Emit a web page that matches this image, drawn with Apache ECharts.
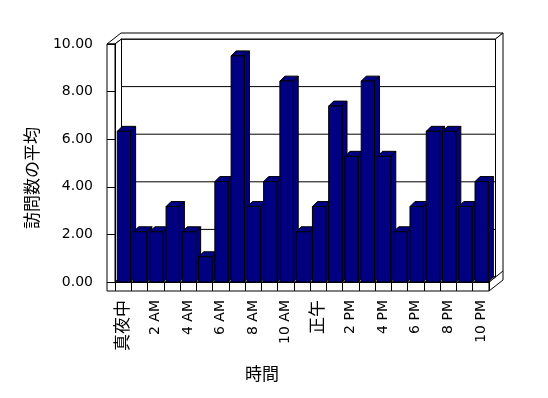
<!DOCTYPE html>
<html>
<head>
<meta charset="utf-8">
<script src="https://cdn.jsdelivr.net/npm/echarts@6/dist/echarts.min.js"></script>
<style>
  html, body { margin: 0; padding: 0; background: #fff; }
  #chart { width: 548px; height: 398px; }
</style>
</head>
<body>
<div id="chart"></div>
<script>
  // 時間帯 (0時〜22時)
  const hours = ['真夜中', '1 AM', '2 AM', '3 AM', '4 AM', '5 AM', '6 AM', '7 AM', '8 AM', '9 AM', '10 AM', '11 AM',
                 '正午', '1 PM', '2 PM', '3 PM', '4 PM', '5 PM', '6 PM', '7 PM', '8 PM', '9 PM', '10 PM'];
  // 訪問数の平均
  const visits = [6.33, 2.11, 2.11, 3.17, 2.11, 1.06, 4.22, 9.50, 3.17, 4.22, 8.44, 2.11,
                  3.17, 7.39, 5.28, 8.44, 5.28, 2.11, 3.17, 6.33, 6.33, 3.17, 4.22];
  const yTicks = [0, 2, 4, 6, 8, 10];

  const font = '"DejaVu Sans", "Noto Sans CJK JP", sans-serif';
  const chart = echarts.init(document.getElementById('chart'));

  // 奥行き (背面の壁まで / 壁の厚みを含めた全体)
  const bx = 6.5, by = -5, tx = 14, ty = -11;
  const wallW = 8, floorH = 9;

  function renderFrame(params, api) {
    const cs = params.coordSys;
    const L = cs.x, R = cs.x + cs.width, T = cs.y, B = cs.y + cs.height;
    const st = { fill: '#fff', stroke: '#000', lineWidth: 1 };
    const poly = pts => ({ type: 'polygon', shape: { points: pts }, style: st });
    const kids = [];
    // 背面の壁
    kids.push(poly([[L + bx, T + by], [R + bx, T + by], [R + bx, B + by], [L + bx, B + by]]));
    yTicks.forEach(v => {
      const y = api.coord([0, v])[1] + by;
      kids.push({ type: 'line', shape: { x1: L + bx, y1: y, x2: R + bx, y2: y }, style: { stroke: '#000', lineWidth: 1 } });
    });
    // 壁の上面
    kids.push(poly([[L - wallW, T], [L - wallW + tx, T + ty], [R + tx, T + ty], [R + bx, T + by], [L + bx, T + by], [L, T]]));
    // 右側面
    kids.push(poly([[R + bx, T + by], [R + tx, T + ty], [R + tx, B + ty + floorH], [R, B + floorH], [R, B], [R + bx, B + by]]));
    kids.push({ type: 'line', shape: { x1: R + bx, y1: B + by, x2: R + tx, y2: B + ty }, style: { stroke: '#000', lineWidth: 1 } });
    // 左の壁の内側、床の上面
    kids.push(poly([[L, T], [L + bx, T + by], [L + bx, B + by], [L, B]]));
    kids.push(poly([[L, B], [R, B], [R + bx, B + by], [L + bx, B + by]]));
    // 手前 (左の壁と床の前面)
    kids.push(poly([[L - wallW, T], [L, T], [L, B], [R, B], [R, B + floorH], [L - wallW, B + floorH]]));
    return { type: 'group', children: kids };
  }

  function renderBar(params, api) {
    const i = api.value(0);
    const top = api.coord([i, api.value(1)]);
    const base = api.coord([i, 0]);
    const w = api.size([1, 0])[0];
    const x0 = top[0] - w * 0.36, x1 = top[0] + w * 0.46;
    const dx = 5, dy = -5;
    const st = { fill: '#000080', stroke: '#000', lineWidth: 1 };
    return {
      type: 'group',
      children: [
        { type: 'polygon', shape: { points: [[x1, top[1]], [x1 + dx, top[1] + dy], [x1 + dx, base[1] + dy], [x1, base[1]]] }, style: st },
        { type: 'polygon', shape: { points: [[x0, top[1]], [x1, top[1]], [x1 + dx, top[1] + dy], [x0 + dx, top[1] + dy]] }, style: st },
        { type: 'rect', shape: { x: x0, y: top[1], width: x1 - x0, height: base[1] - top[1] }, style: st }
      ]
    };
  }

  chart.setOption({
    animation: false,
    grid: { left: 115, right: 59, top: 44, bottom: 116 },
    xAxis: {
      type: 'category',
      data: hours,
      z: 5,
      axisLine: { show: true, lineStyle: { color: '#000', width: 1 } },
      axisTick: { show: true, interval: 0, length: 9, lineStyle: { color: '#000' } },
      axisLabel: {
        interval: 1, rotate: 90, margin: 18, color: '#000', fontSize: 14, fontFamily: font,
        // 日本語のラベルは少し大きく
        formatter: v => /[^\x00-\x7f]/.test(v) ? '{jp|' + v + '}' : v,
        rich: { jp: { fontSize: 17, fontFamily: font, color: '#000' } }
      },
      splitLine: { show: false },
      name: '時間',
      nameLocation: 'middle',
      nameGap: 85,
      nameTextStyle: { color: '#000', fontSize: 17, fontFamily: font, padding: [0, 80, 0, 0] }
    },
    yAxis: {
      type: 'value',
      min: 0,
      max: 10,
      interval: 2,
      z: 5,
      axisLine: { show: true, lineStyle: { color: '#000', width: 1 } },
      axisTick: { show: true, length: 8, lineStyle: { color: '#000' } },
      axisLabel: { margin: 22, color: '#000', fontSize: 14, fontFamily: font, formatter: v => v.toFixed(2) },
      splitLine: { show: false },
      name: '訪問数の平均',
      nameLocation: 'middle',
      nameGap: 73,
      nameTextStyle: { color: '#000', fontSize: 17, fontFamily: font, padding: [0, 30, 0, 0] }
    },
    series: [
      { type: 'custom', silent: true, z: 1, data: [[0, 0]], renderItem: renderFrame },
      { type: 'custom', z: 2, data: visits.map((v, i) => [i, v]), encode: { x: 0, y: 1 }, renderItem: renderBar }
    ]
  });
</script>
</body>
</html>
